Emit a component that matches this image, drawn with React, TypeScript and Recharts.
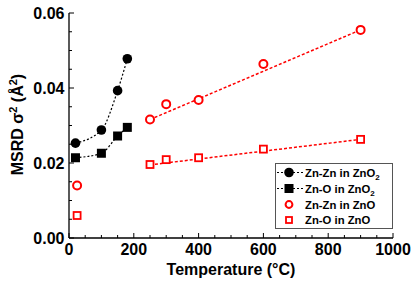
import React from "react";
import { ComposedChart, Line, Scatter, XAxis, YAxis } from "recharts";

// MSRD (Å²) versus temperature (°C)
const znznZnO2 = [
  { t: 20, msrd: 0.0253 },
  { t: 100, msrd: 0.0288 },
  { t: 150, msrd: 0.0393 },
  { t: 180, msrd: 0.0478 },
];
const znoZnO2 = [
  { t: 20, msrd: 0.0214 },
  { t: 100, msrd: 0.0226 },
  { t: 150, msrd: 0.0272 },
  { t: 180, msrd: 0.0295 },
];
const znznZnO = [
  { t: 25, msrd: 0.014 },
  { t: 250, msrd: 0.0316 },
  { t: 300, msrd: 0.0357 },
  { t: 400, msrd: 0.0368 },
  { t: 600, msrd: 0.0464 },
  { t: 900, msrd: 0.0555 },
];
const znoZnO = [
  { t: 25, msrd: 0.006 },
  { t: 250, msrd: 0.0196 },
  { t: 300, msrd: 0.0209 },
  { t: 400, msrd: 0.0214 },
  { t: 600, msrd: 0.0237 },
  { t: 900, msrd: 0.0263 },
];
// dashed fit lines for ZnO
const znznFit = [
  { t: 250, msrd: 0.0316 },
  { t: 900, msrd: 0.0555 },
];
const znoFit = [
  { t: 250, msrd: 0.0195 },
  { t: 900, msrd: 0.0263 },
];

const xTicks = [0, 50, 100, 150, 200, 250, 300, 350, 400, 450, 500, 550, 600, 650, 700, 750, 800, 850, 900, 950, 1000];
const xLabels = [0, 200, 400, 600, 800, 1000];
const yTicks = [0, 0.005, 0.01, 0.015, 0.02, 0.025, 0.03, 0.035, 0.04, 0.045, 0.05, 0.055, 0.06];
const yLabels = [0, 0.02, 0.04, 0.06];

const FONT = "Arial, 'Liberation Sans', sans-serif";
const RED = "#ff0000";

const isMajor = (v: number, list: number[]) => list.some((m) => Math.abs(m - v) < 1e-9);

function BottomTick({ x, y, payload }: any) {
  const major = isMajor(payload.value, xLabels);
  return (
    <g>
      <line x1={x} x2={x} y1={y} y2={y - (major ? 5 : 3)} stroke="#000" strokeWidth={1} />
      {major && (
        <text x={x} y={y + 17} textAnchor="middle" fontFamily={FONT} fontWeight="bold" fontSize={16} fill="#000">
          {payload.value}
        </text>
      )}
    </g>
  );
}

function TopTick({ x, y, payload }: any) {
  const major = isMajor(payload.value, xLabels);
  return <line x1={x} x2={x} y1={y} y2={y + (major ? 5 : 3)} stroke="#000" strokeWidth={1} />;
}

function LeftTick({ x, y, payload }: any) {
  const major = isMajor(payload.value, yLabels);
  return (
    <g>
      <line x1={x} x2={x + (major ? 5 : 3)} y1={y} y2={y} stroke="#000" strokeWidth={1} />
      {major && (
        <text x={x - 4.5} y={y + 5.5} textAnchor="end" fontFamily={FONT} fontWeight="bold" fontSize={16} fill="#000">
          {payload.value.toFixed(2)}
        </text>
      )}
    </g>
  );
}

function RightTick({ x, y, payload }: any) {
  const major = isMajor(payload.value, yLabels);
  return <line x1={x} x2={x - (major ? 5 : 3)} y1={y} y2={y} stroke="#000" strokeWidth={1} />;
}

const BlackCircle = ({ cx, cy }: any) => <circle key={`bc${cx}`} cx={cx} cy={cy} r={4.8} fill="#000" />;
const BlackSquare = ({ cx, cy }: any) => <rect key={`bs${cx}`} x={cx - 4.5} y={cy - 4.5} width={9} height={9} fill="#000" />;
const RedCircle = ({ cx, cy, r = 4 }: any) => <circle cx={cx} cy={cy} r={r} fill="#fff" stroke={RED} strokeWidth={2} />;
const RedSquare = ({ cx, cy, s = 7 }: any) => (
  <rect x={cx - s / 2} y={cy - s / 2} width={s} height={s} fill="#fff" stroke={RED} strokeWidth={1.8} />
);

function YTitle({ viewBox }: any) {
  const cy = viewBox.y + viewBox.height / 2 - 1;
  const cx = 23;
  return (
    <text
      x={cx}
      y={cy}
      transform={`rotate(-90, ${cx}, ${cy})`}
      textAnchor="middle"
      fontFamily={FONT}
      fontWeight="bold"
      fontSize={16}
      fill="#000"
    >
      MSRD σ<tspan dy={-6} fontSize={11}>2</tspan>
      <tspan dy={6}> (Å</tspan>
      <tspan dy={-6} fontSize={11}>2</tspan>
      <tspan dy={6}>)</tspan>
    </text>
  );
}

function XTitle({ viewBox }: any) {
  return (
    <text
      x={viewBox.x + viewBox.width / 2}
      y={275}
      textAnchor="middle"
      fontFamily={FONT}
      fontWeight="bold"
      fontSize={16}
      fill="#000"
    >
      Temperature (°C)
    </text>
  );
}

function LegendBox() {
  const rows = [
    { label: "Zn-Zn in ZnO", sub: true, mark: <BlackCircle cx={14} cy={9.5} />, line: true, y: 9.5 },
    { label: "Zn-O in ZnO", sub: true, mark: <BlackSquare cx={14} cy={25.5} />, line: true, y: 25.5 },
    { label: "Zn-Zn in ZnO", sub: false, mark: <RedCircle cx={14} cy={41.5} r={3.4} />, line: false, y: 41.5 },
    { label: "Zn-O in ZnO", sub: false, mark: <RedSquare cx={14} cy={57} s={6} />, line: false, y: 57 },
  ];
  return (
    <svg
      width={118}
      height={66}
      style={{ position: "absolute", left: 275, top: 163 }}
    >
      <rect x={0.5} y={0.5} width={117} height={65} fill="#fff" stroke="#555" strokeWidth={1} />
      {rows.map((r, i) => (
        <g key={i}>
          {r.line && <line x1={2} x2={28} y1={r.y} y2={r.y} stroke="#000" strokeWidth={1.2} strokeDasharray="2 2" />}
          {r.mark}
          <text x={30} y={r.y + 4} fontFamily={FONT} fontWeight="bold" fontSize={11.3} fill="#000">
            {r.label}
            {r.sub && (
              <tspan dy={3} fontSize={8}>
                2
              </tspan>
            )}
          </text>
        </g>
      ))}
    </svg>
  );
}

export default function App() {
  const axisLine = { stroke: "#000", strokeWidth: 1.3 };
  return (
    <div style={{ position: "relative", width: 416, height: 284, background: "#fff" }}>
      <style>{`body{margin:0}`}</style>
      <ComposedChart width={416} height={284} margin={{ top: 13, right: 23, bottom: 0, left: 0 }}>
        <XAxis
          xAxisId="b"
          dataKey="t"
          type="number"
          domain={[0, 1000]}
          ticks={xTicks}
          interval={0}
          tickSize={0}
          tickMargin={0}
          tickLine={false}
          axisLine={axisLine}
          tick={BottomTick}
          height={46}
          allowDataOverflow
          label={XTitle}
        />
        <XAxis
          xAxisId="t"
          orientation="top"
          dataKey="t"
          type="number"
          domain={[0, 1000]}
          ticks={xTicks}
          interval={0}
          tickSize={0}
          tickMargin={0}
          tickLine={false}
          axisLine={axisLine}
          tick={TopTick}
          height={0}
          allowDataOverflow
        />
        <YAxis
          yAxisId="l"
          dataKey="msrd"
          type="number"
          domain={[0, 0.06]}
          ticks={yTicks}
          interval={0}
          tickSize={0}
          tickMargin={0}
          tickLine={false}
          axisLine={axisLine}
          tick={LeftTick}
          width={69}
          allowDataOverflow
          label={YTitle}
        />
        <YAxis
          yAxisId="r"
          orientation="right"
          dataKey="msrd"
          type="number"
          domain={[0, 0.06]}
          ticks={yTicks}
          interval={0}
          tickSize={0}
          tickMargin={0}
          tickLine={false}
          axisLine={axisLine}
          tick={RightTick}
          width={0}
          allowDataOverflow
        />
        <Line
          xAxisId="b"
          yAxisId="l"
          data={znznFit}
          dataKey="msrd"
          type="linear"
          stroke={RED}
          strokeWidth={1.5}
          strokeDasharray="3 2"
          dot={false}
          isAnimationActive={false}
        />
        <Line
          xAxisId="b"
          yAxisId="l"
          data={znoFit}
          dataKey="msrd"
          type="linear"
          stroke={RED}
          strokeWidth={1.5}
          strokeDasharray="3 2"
          dot={false}
          isAnimationActive={false}
        />
        <Line
          xAxisId="b"
          yAxisId="l"
          data={znznZnO2}
          dataKey="msrd"
          type="monotone"
          stroke="#000"
          strokeWidth={1.2}
          strokeDasharray="2 2"
          dot={BlackCircle}
          isAnimationActive={false}
        />
        <Line
          xAxisId="b"
          yAxisId="l"
          data={znoZnO2}
          dataKey="msrd"
          type="monotone"
          stroke="#000"
          strokeWidth={1.2}
          strokeDasharray="2 2"
          dot={BlackSquare}
          isAnimationActive={false}
        />
        <Scatter xAxisId="b" yAxisId="l" data={znznZnO} dataKey="msrd" shape={RedCircle} isAnimationActive={false} />
        <Scatter xAxisId="b" yAxisId="l" data={znoZnO} dataKey="msrd" shape={RedSquare} isAnimationActive={false} />
      </ComposedChart>
      <LegendBox />
    </div>
  );
}
